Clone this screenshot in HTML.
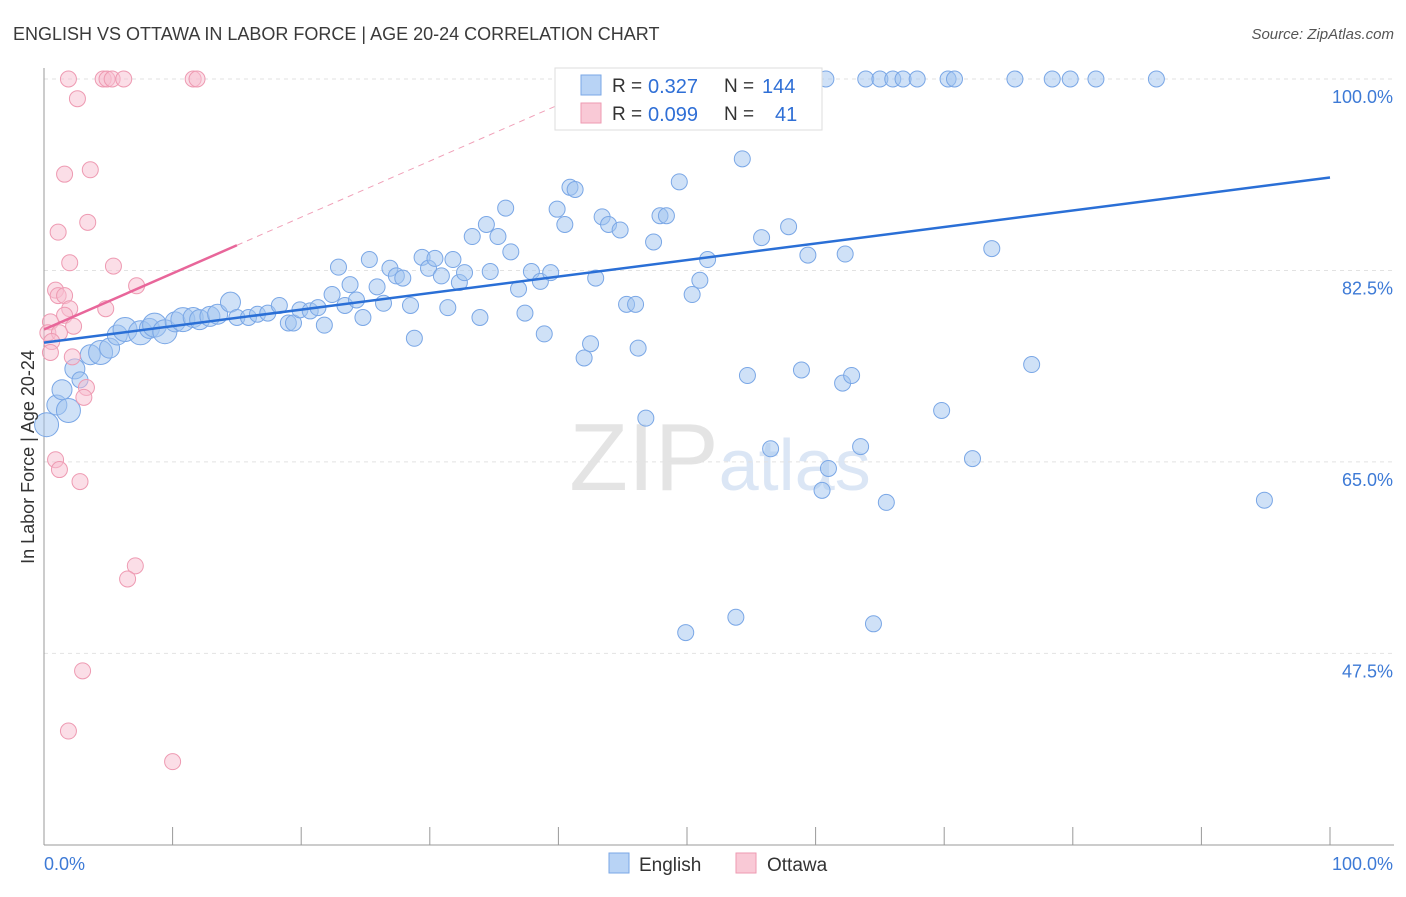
<!DOCTYPE html>
<html><head><meta charset="utf-8"><style>
body{margin:0;background:#fff;font-family:"Liberation Sans",sans-serif;}
svg text{font-family:"Liberation Sans",sans-serif;}
</style></head><body>
<svg id="chart" width="1406" height="892" xmlns="http://www.w3.org/2000/svg">
<text x="13" y="40" font-size="18" fill="#3a3a3a">ENGLISH VS OTTAWA IN LABOR FORCE | AGE 20-24 CORRELATION CHART</text>
<text x="1394" y="39" font-size="15" fill="#555" text-anchor="end" font-style="italic">Source: ZipAtlas.com</text>
<text x="720" y="490" font-size="96" fill="#e4e4e4" text-anchor="middle" font-family="Liberation Serif">ZIP<tspan fill="#dbe6f5" font-family="Liberation Sans" font-size="72">atlas</tspan></text>
<g id="grid"></g>
<g id="axes"></g>
<g id="marks"></g>
<text transform="translate(34,457) rotate(-90)" font-size="18" fill="#333" text-anchor="middle">In Labor Force | Age 20-24</text>
<g>
<rect x="555" y="68" width="267" height="62" fill="#fff" stroke="#ddd"/>
<rect x="581" y="75" width="20" height="20" fill="#b8d3f5" stroke="#7aa7e6"/>
<text x="612" y="92" font-size="19" fill="#333">R =</text>
<text x="648" y="93" font-size="20" fill="#2f6fd6">0.327</text>
<text x="724" y="92" font-size="19" fill="#333">N =</text>
<text x="762" y="93" font-size="20" fill="#2f6fd6">144</text>
<rect x="581" y="103" width="20" height="20" fill="#f9c9d6" stroke="#ee9ab2"/>
<text x="612" y="120" font-size="19" fill="#333">R =</text>
<text x="648" y="121" font-size="20" fill="#2f6fd6">0.099</text>
<text x="724" y="120" font-size="19" fill="#333">N =</text>
<text x="775" y="121" font-size="20" fill="#2f6fd6">41</text>
</g>
<g>
<rect x="609" y="853" width="20" height="20" fill="#b8d3f5" stroke="#7aa7e6"/>
<text x="639" y="871" font-size="19" fill="#333">English</text>
<rect x="736" y="853" width="20" height="20" fill="#f9c9d6" stroke="#ee9ab2"/>
<text x="767" y="871" font-size="19" fill="#333">Ottawa</text>
</g>
</svg>
<script>
const yTicks=[100,82.5,65,47.5];
const yTickLabels=["100.0%","82.5%","65.0%","47.5%"];
const xTickLabels=["0.0%","100.0%"];
const englishTrend=[75.9,91.0];
const ottawaTrend=[77.1,84.8];
const englishPts=[[0.2,68.4,12],[1.0,70.2,10],[1.9,69.7,12],[1.4,71.6,10],[2.4,73.5,10],[2.8,72.5,8],[3.6,74.8,10],[4.4,75.0,12],[5.1,75.4,10],[5.7,76.6,10],[6.3,77.1,12],[7.5,76.8,12],[8.2,77.2,10],[8.6,77.5,12],[9.4,76.9,12],[10.2,77.8,10],[10.8,78.0,12],[11.6,78.2,10],[12.1,78.0,10],[12.9,78.3,10],[13.5,78.5,10],[14.5,79.6,10],[15.0,78.2,8],[15.9,78.2,8],[16.6,78.5,8],[17.4,78.6,8],[18.3,79.3,8],[19.0,77.7,8],[19.4,77.7,8],[19.9,78.9,8],[20.7,78.8,8],[21.3,79.1,8],[21.8,77.5,8],[22.4,80.3,8],[22.9,82.8,8],[23.4,79.3,8],[23.8,81.2,8],[24.3,79.8,8],[24.8,78.2,8],[25.3,83.5,8],[25.9,81.0,8],[26.4,79.5,8],[26.9,82.7,8],[27.4,82.0,8],[27.9,81.8,8],[28.5,79.3,8],[28.8,76.3,8],[29.4,83.7,8],[29.9,82.7,8],[30.4,83.6,8],[30.9,82.0,8],[31.4,79.1,8],[31.8,83.5,8],[32.3,81.4,8],[32.7,82.3,8],[33.3,85.6,8],[33.9,78.2,8],[34.4,86.7,8],[34.7,82.4,8],[35.3,85.6,8],[35.9,88.2,8],[36.3,84.2,8],[36.9,80.8,8],[37.4,78.6,8],[37.9,82.4,8],[38.6,81.5,8],[38.9,76.7,8],[39.4,82.3,8],[39.9,88.1,8],[40.5,86.7,8],[40.9,90.1,8],[41.3,89.9,8],[42.0,74.5,8],[42.5,75.8,8],[42.9,81.8,8],[43.4,87.4,8],[43.9,86.7,8],[44.8,86.2,8],[45.3,79.4,8],[46.0,79.4,8],[46.2,75.4,8],[46.8,69.0,8],[47.4,85.1,8],[47.9,87.5,8],[48.4,87.5,8],[49.4,90.6,8],[49.9,49.4,8],[50.4,80.3,8],[51.0,81.6,8],[51.6,83.5,8],[53.8,50.8,8],[54.3,92.7,8],[54.7,72.9,8],[55.8,85.5,8],[56.5,66.2,8],[57.9,86.5,8],[58.9,73.4,8],[59.4,83.9,8],[60.5,62.4,8],[61.0,64.4,8],[62.1,72.2,8],[62.3,84.0,8],[62.8,72.9,8],[63.5,66.4,8],[64.5,50.2,8],[65.5,61.3,8],[69.8,69.7,8],[72.2,65.3,8],[73.7,84.5,8],[76.8,73.9,8],[94.9,61.5,8],
[44.5,100,8],[46.2,100,8],[48.5,100,8],[52.3,100,8],[53.3,100,8],[55.7,100,8],[56.5,100,8],[57.6,100,8],[58.8,100,8],[59.7,100,8],[60.8,100,8],[63.9,100,8],[65.0,100,8],[66.0,100,8],[66.8,100,8],[67.9,100,8],[70.3,100,8],[70.8,100,8],[75.5,100,8],[78.4,100,8],[79.8,100,8],[81.8,100,8],[86.5,100,8]];
const ottawaPts=[[1.9,100],[4.6,100],[4.9,100],[5.3,100],[6.2,100],[11.6,100],[11.9,100],[2.6,98.2],[1.6,91.3],[3.6,91.7],[3.4,86.9],[1.1,86.0],[2.0,83.2],[5.4,82.9],[7.2,81.1],[0.9,80.7],[1.1,80.2],[1.6,80.2],[2.0,79.0],[4.8,79.0],[1.6,78.4],[0.5,77.8],[2.3,77.4],[0.3,76.8],[1.2,76.8],[0.6,76.0],[0.5,75.0],[2.2,74.6],[3.3,71.8],[3.1,70.9],[0.9,65.2],[1.2,64.3],[2.8,63.2],[7.1,55.5],[6.5,54.3],[3.0,45.9],[1.9,40.4],[10.0,37.6]];
const NS="http://www.w3.org/2000/svg";
const X=v=>44+v*12.86;
const Y=v=>79+(100-v)*10.94;
function mk(t,a,p){const e=document.createElementNS(NS,t);for(const k in a)e.setAttribute(k,a[k]);p.appendChild(e);return e;}
const grid=document.getElementById('grid'),axes=document.getElementById('axes'),marks=document.getElementById('marks');
yTicks.forEach((t,i)=>{
 const l=mk('line',{x1:44,x2:1394,y1:Y(t),y2:Y(t),stroke:'#e2e2e2','stroke-dasharray':'4,4'},grid);
 
 
 const tx=mk('text',{x:1393,y:Y(t)+24,'font-size':18,fill:'#3d7ad6','text-anchor':'end'},axes);
 tx.textContent=yTickLabels[i];
 
 
});
const ya=mk('line',{x1:44,x2:44,y1:68,y2:845,stroke:'#999'},axes);


const xa=mk('line',{x1:44,x2:1394,y1:845,y2:845,stroke:'#999'},axes);


for(let i=0;i<=10;i++){const t=mk('line',{x1:X(i*10),x2:X(i*10),y1:827,y2:845,stroke:'#999'},axes);
 
 }
const xl0=mk('text',{x:44,y:870,'font-size':18,fill:'#3d7ad6'},axes);xl0.textContent=xTickLabels[0];


const xl1=mk('text',{x:1393,y:870,'font-size':18,fill:'#3d7ad6','text-anchor':'end'},axes);xl1.textContent=xTickLabels[1];


englishPts.forEach(p=>{const c=mk('circle',{cx:X(p[0]),cy:Y(p[1]),r:p[2],fill:'rgba(160,195,240,0.5)',stroke:'#7aa7e6','stroke-width':1},marks);
 
 });
ottawaPts.forEach(p=>{const c=mk('circle',{cx:X(p[0]),cy:Y(p[1]),r:8,fill:'rgba(248,190,208,0.5)',stroke:'#ee9ab2','stroke-width':1},marks);
 
 });
const slope=(ottawaTrend[1]-ottawaTrend[0])/15;
const xEnd=(100-ottawaTrend[0])/slope;
const od=mk('line',{x1:X(15),y1:Y(ottawaTrend[1]),x2:X(xEnd),y2:Y(100),stroke:'#f0a0b8','stroke-dasharray':'6,5','stroke-width':1},marks);


const ot=mk('line',{x1:X(0),y1:Y(ottawaTrend[0]),x2:X(15),y2:Y(ottawaTrend[1]),stroke:'#e8669a','stroke-width':2.5},marks);


const et=mk('line',{x1:X(0),y1:Y(englishTrend[0]),x2:X(100),y2:Y(englishTrend[1]),stroke:'#2a6fd6','stroke-width':2.5},marks);


</script>
</body></html>
